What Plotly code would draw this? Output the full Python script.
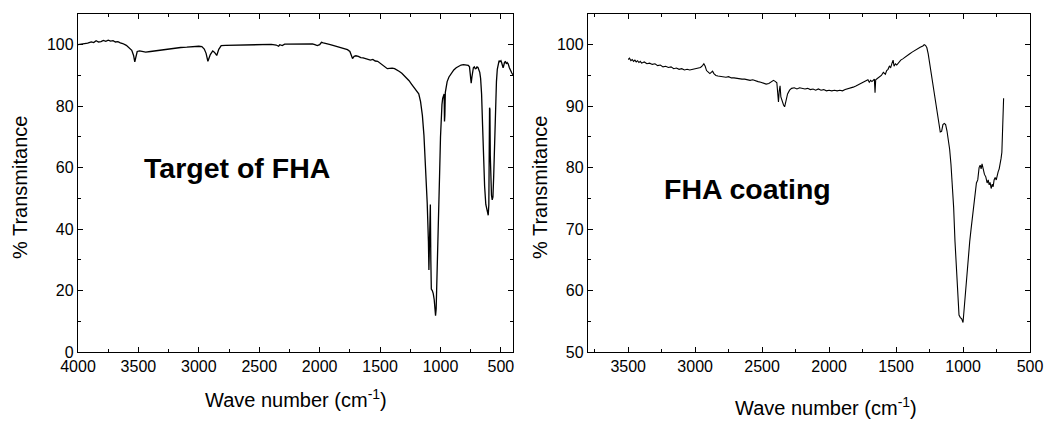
import plotly.graph_objects as go

# ---------------- data: Target of FHA (left) ----------------
target_wn = [4000, 3960, 3920, 3890, 3870, 3850, 3830, 3810, 3790, 3770, 3750, 3730, 3710, 3690, 3670, 3650,
             3630, 3600, 3575, 3555, 3540, 3530, 3522, 3510, 3490, 3470, 3440, 3400, 3350, 3300, 3250, 3200,
             3150, 3100, 3050, 3000, 2975, 2955, 2940, 2925, 2905, 2885, 2870, 2852, 2835, 2815, 2780, 2700,
             2600, 2500, 2400, 2360, 2340, 2330, 2310, 2290, 2250, 2200, 2150, 2100, 2060, 2040, 2020, 2000,
             1985, 1970, 1950, 1920, 1890, 1860, 1830, 1800, 1770, 1750, 1738, 1728, 1715, 1700, 1680, 1660,
             1640, 1620, 1600, 1580, 1560, 1540, 1520, 1500, 1480, 1460, 1440, 1420, 1400, 1380, 1360, 1340,
             1320, 1300, 1280, 1260, 1240, 1220, 1200, 1180, 1165, 1150, 1137, 1125, 1110, 1100, 1096, 1092,
             1088, 1084, 1080, 1076, 1068, 1060, 1052, 1046, 1041, 1036, 1030, 1022, 1015, 1008, 1000, 994,
             988, 982, 976, 970, 967, 964, 960, 955, 945, 930, 910, 890, 870, 850, 830, 810, 790, 770, 760,
             752, 746, 740, 735, 728, 720, 712, 705, 698, 690, 682, 675, 668, 660, 652, 645, 635, 625, 615,
             605, 600, 597, 594, 591, 588, 583, 578, 572, 566, 560, 552, 545, 537, 530, 522, 515, 508, 500,
             495, 488, 482, 478, 470, 462, 455, 448, 440, 430, 420, 410, 400]
target_t = [100.0, 100.2, 100.5, 100.9, 100.7, 101.3, 100.9, 101.0, 101.4, 101.1, 101.5, 101.2, 101.3, 100.9, 101.0, 100.6,
            100.4, 99.8, 99.0, 98.2, 96.5, 94.4, 95.8, 97.8, 98.0, 97.8, 97.6, 97.8, 98.1, 98.4, 98.7, 98.9,
            99.1, 99.2, 99.4, 99.5, 99.4, 98.6, 97.2, 94.6, 96.8, 98.0, 97.5, 96.5, 98.5, 99.7, 99.8, 99.9,
            100.0, 100.0, 100.1, 99.9, 99.5, 100.0, 99.7, 100.2, 100.2, 100.3, 100.4, 100.2, 100.3, 100.0, 99.7, 100.0,
            100.8, 100.6, 100.3, 100.1, 99.8, 99.5, 99.1, 98.8, 98.4, 97.8, 96.5, 95.5, 96.2, 96.4, 96.2, 95.8,
            95.7, 95.4, 95.3, 95.0, 95.2, 94.7, 94.6, 94.0, 93.3, 92.5, 92.2, 92.3, 92.4, 92.2, 91.8, 91.3,
            90.7, 90.0, 89.2, 88.3, 87.2, 86.2, 85.2, 84.0, 81.5, 77.0, 70.5, 61.0, 48.5, 36.0, 26.7, 34.0,
            47.5, 48.0, 30.0, 20.5, 20.0, 19.0, 17.0, 14.0, 11.8, 14.0, 22.0, 33.0, 45.0, 57.0, 70.0, 76.5,
            80.5, 82.5, 83.5, 84.0, 75.0, 77.0, 84.5, 86.5, 88.0, 89.5, 90.8, 91.8, 92.5, 93.0, 93.4, 93.5, 93.5, 93.3, 92.8,
            90.5, 87.5, 89.5, 92.0, 92.5, 92.8, 92.2, 92.3, 92.8, 92.6, 91.8, 91.0, 89.0, 84.0, 74.0, 64.0, 54.0, 48.0, 45.5,
            44.5, 48.0, 62.0, 79.5, 79.0, 64.0, 55.0, 51.0, 49.5, 50.5, 57.0, 70.0, 80.0, 88.0, 92.0, 94.0, 94.8, 94.5, 94.8,
            94.3, 93.4, 92.5, 93.0, 94.3, 94.5, 93.8, 94.2, 93.8, 92.5, 91.5, 90.8, 90.2]

# ---------------- data: FHA coating (right) ----------------
coating_wn = [3500, 3490, 3480, 3470, 3460, 3450, 3440, 3430, 3420, 3410, 3400, 3380, 3360, 3340, 3320, 3300,
              3280, 3260, 3240, 3220, 3200, 3180, 3160, 3140, 3120, 3100, 3080, 3060, 3040, 3020, 3000, 2980,
              2960, 2945, 2935, 2925, 2915, 2900, 2890, 2880, 2870, 2860, 2845, 2830, 2810, 2790, 2770, 2750,
              2730, 2710, 2690, 2670, 2650, 2630, 2610, 2590, 2570, 2550, 2530, 2510, 2490, 2470, 2450, 2430,
              2415, 2400, 2390, 2383, 2378, 2372, 2366, 2360, 2352, 2340, 2332, 2322, 2310, 2295, 2280, 2260,
              2240, 2220, 2200, 2180, 2160, 2140, 2120, 2100, 2080, 2060, 2040, 2020, 2000, 1980, 1960, 1940,
              1920, 1900, 1880, 1860, 1840, 1820, 1800, 1780, 1760, 1740, 1725, 1710, 1700, 1690, 1680, 1670,
              1662, 1657, 1652, 1640, 1625, 1610, 1595, 1580, 1570, 1560, 1550, 1540, 1530, 1522, 1515, 1505,
              1495, 1480, 1465, 1450, 1435, 1420, 1400, 1380, 1360, 1340, 1320, 1300, 1290, 1280, 1270, 1260,
              1250, 1240, 1230, 1220, 1210, 1200, 1190, 1180, 1170, 1160, 1150, 1140, 1130, 1120, 1110, 1100,
              1090, 1080, 1070, 1060, 1050, 1040, 1030, 1020, 1010, 1000, 990, 980, 970, 960, 950, 940, 930,
              920, 910, 900, 890, 880, 872, 865, 858, 850, 840, 830, 820, 812, 805, 798, 790, 782, 775, 768,
              760, 752, 745, 738, 730, 722, 716, 710, 705, 700, 697]
coating_t = [97.6, 97.8, 97.4, 97.6, 97.3, 97.5, 97.2, 97.4, 97.1, 97.3, 97.0, 97.2, 96.9, 97.0, 96.8, 96.9,
             96.6, 96.7, 96.4, 96.5, 96.3, 96.4, 96.1, 96.2, 96.0, 96.1, 95.9, 96.0, 95.9, 96.0, 96.1, 96.2,
             96.3, 96.6, 96.9, 96.5, 95.8, 95.5, 95.3, 95.5, 95.7, 95.3, 95.0, 94.9, 94.8, 94.8, 94.7, 94.8,
             94.6, 94.6, 94.5, 94.5, 94.4, 94.4, 94.3, 94.2, 94.3, 94.1, 94.0, 93.9, 93.7, 93.6, 93.7, 94.0,
             94.2, 94.0, 93.8, 92.0, 90.7, 92.5, 93.3, 91.5, 90.8, 90.2, 89.9, 91.0, 92.0, 92.6, 92.9, 93.0,
             92.8, 93.0, 92.9, 92.8, 92.9, 92.7, 92.8, 92.6, 92.8, 92.6, 92.7, 92.5, 92.6, 92.5, 92.6, 92.5,
             92.6, 92.5, 92.7, 92.8, 92.9, 93.1, 93.3, 93.5, 93.7, 93.9, 94.1, 94.3, 93.9, 94.2, 94.0, 94.3,
             94.4, 92.2, 94.3, 94.5, 94.7, 95.0, 95.5, 95.2, 95.8, 96.0, 96.5, 96.3, 97.0, 97.5, 96.5, 96.9,
             96.7, 97.1, 97.5, 97.7, 97.9, 98.2, 98.5, 98.8, 99.1, 99.4, 99.6, 99.8, 100.0, 99.9, 99.5, 98.5,
             97.0, 95.5, 94.0, 92.5, 91.0, 89.5, 88.0, 86.5, 85.8, 85.9, 87.0, 87.2, 87.0, 86.0, 84.5, 83.0,
             80.5, 77.0, 73.5, 68.0, 63.5, 59.0, 56.0, 55.6, 55.4, 54.8, 57.5, 60.5, 63.5, 66.0, 68.0, 70.0, 72.0,
             74.5, 75.5, 77.5, 78.0, 80.0, 80.4, 79.8, 80.6, 79.5, 78.9, 78.5, 77.5, 78.0, 77.2, 77.6, 76.6, 77.3, 76.9, 78.0,
             78.4, 78.0, 78.9, 79.3, 79.8, 80.6, 81.5, 82.5, 85.5, 89.0, 91.3]

left_xticks = [4000, 3500, 3000, 2500, 2000, 1500, 1000, 500]
right_xticks = [3500, 3000, 2500, 2000, 1500, 1000, 500]
left_yticks = [0, 20, 40, 60, 80, 100]
right_yticks = [50, 60, 70, 80, 90, 100]

OFF = 8  # page body margin
W, H = 1060 - OFF, 421 - OFF
FONT = "Arial, Liberation Sans, sans-serif"


def px(x):
    return (x - OFF) / W


def py(y):
    return 1 - (y - OFF) / H


fig = go.Figure()
fig.add_trace(go.Scatter(x=target_wn, y=target_t, mode="lines",
                         line=dict(color="black", width=1.3), xaxis="x", yaxis="y",
                         showlegend=False))
fig.add_trace(go.Scatter(x=coating_wn, y=coating_t, mode="lines",
                         line=dict(color="black", width=1.1), xaxis="x2", yaxis="y2",
                         showlegend=False))

axis_common = dict(showline=True, mirror="allticks", linecolor="black", linewidth=1.4,
                   ticks="inside", ticklen=5, tickwidth=1.2, tickcolor="black",
                   showgrid=False, zeroline=False, automargin=False,
                   tickfont=dict(family=FONT, size=16, color="black"))

ydom = [py(352), py(14)]

fig.update_layout(
    width=W, height=H,
    margin=dict(l=0, r=0, t=0, b=0, pad=0, autoexpand=False),
    paper_bgcolor="white", plot_bgcolor="white",
    font=dict(family=FONT, color="black"),
    xaxis=dict(domain=[px(78), px(513)], range=[4000, 400], anchor="y",
               tickvals=left_xticks,
               minor=dict(ticks="inside", ticklen=3, tickcolor="black", dtick=250, tick0=0, showgrid=False),
               **axis_common),
    yaxis=dict(domain=ydom, range=[0, 110], anchor="x", tickvals=left_yticks,
               minor=dict(ticks="inside", ticklen=3, tickcolor="black", dtick=10, tick0=0, showgrid=False),
               **axis_common),
    xaxis2=dict(domain=[px(588), px(1030)], range=[3800, 500], anchor="y2",
                tickvals=right_xticks,
                minor=dict(ticks="inside", ticklen=3, tickcolor="black", dtick=250, tick0=0, showgrid=False),
                **axis_common),
    yaxis2=dict(domain=ydom, range=[50, 105], anchor="x2", tickvals=right_yticks,
                minor=dict(ticks="inside", ticklen=3, tickcolor="black", dtick=5, tick0=0, showgrid=False),
                **axis_common),
)

ann = []
title_font = dict(family=FONT, size=20, color="black")
ann.append(dict(text="Wave number (cm<sup>-1</sup>)", x=px(296), y=py(413), xref="paper", yref="paper",
                showarrow=False, xanchor="center", yanchor="bottom", font=title_font))
ann.append(dict(text="Wave number (cm<sup>-1</sup>)", x=px(826), y=py(421), xref="paper", yref="paper",
                showarrow=False, xanchor="center", yanchor="bottom", font=title_font))
ann.append(dict(text="% Transmitance", x=px(20), y=py(188), xref="paper", yref="paper",
                showarrow=False, xanchor="center", yanchor="middle", textangle=-90, font=title_font))
ann.append(dict(text="% Transmitance", x=px(540), y=py(188), xref="paper", yref="paper",
                showarrow=False, xanchor="center", yanchor="middle", textangle=-90, font=title_font))
label_font = dict(family=FONT, size=28.5, color="black")
ann.append(dict(text="<b>Target of FHA</b>", x=px(237), y=py(168), xref="paper", yref="paper",
                showarrow=False, xanchor="center", yanchor="middle", font=label_font))
ann.append(dict(text="<b>FHA coating</b>", x=px(747), y=py(189), xref="paper", yref="paper",
                showarrow=False, xanchor="center", yanchor="middle", font=label_font))
fig.update_layout(annotations=ann)

fig.write_html("out.html")
